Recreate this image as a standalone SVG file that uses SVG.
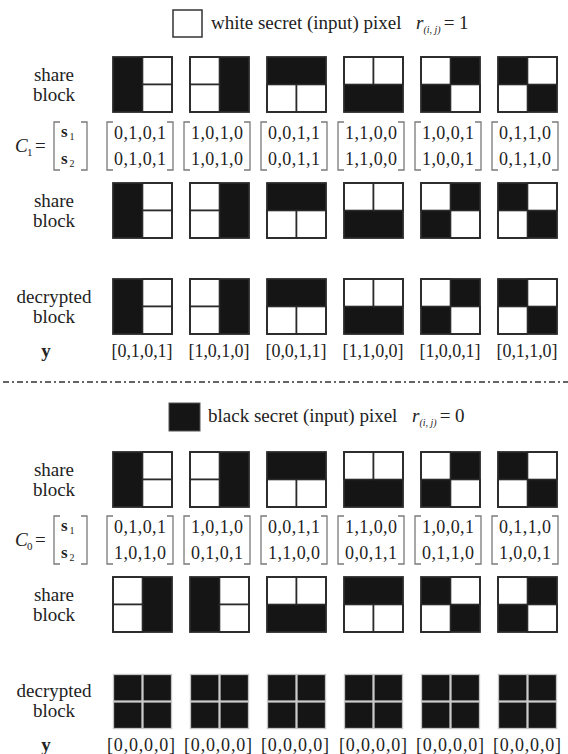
<svg xmlns="http://www.w3.org/2000/svg" xmlns:xlink="http://www.w3.org/1999/xlink" width="568" height="754" viewBox="0 0 568 754" font-family="'Liberation Serif', 'Times New Roman', serif">
<style>
text{font-family:"Liberation Serif","Times New Roman",serif;fill:#222}
.lbl{font-size:19px;text-anchor:middle}
.hd{font-size:19px}
.it{font-style:italic}
.mx{font-size:18px;text-anchor:middle}
.yv{font-size:18px;text-anchor:middle}
.cw{fill:#fff;stroke:#2a2a2a;stroke-width:1.6}
.cb{fill:#151515}
.out{fill:none;stroke:#2a2a2a;stroke-width:1.8}
.dk{fill:#151515;stroke:#c4c4c4;stroke-width:1.3}
.br{fill:none;stroke:#7a7a7a;stroke-width:1.3}
.dash{stroke:#333;stroke-width:1.5;stroke-dasharray:6 3 2 3}
</style>
<defs>
<g id="p0101"><rect class="cb" x="0" y="0" width="29.5" height="55"/><rect class="cw" x="29.5" y="0" width="29.5" height="27.5"/><rect class="cw" x="29.5" y="27.5" width="29.5" height="27.5"/><rect class="out" width="59" height="55"/></g>
<g id="p1010"><rect class="cb" x="29.5" y="0" width="29.5" height="55"/><rect class="cw" x="0" y="0" width="29.5" height="27.5"/><rect class="cw" x="0" y="27.5" width="29.5" height="27.5"/><rect class="out" width="59" height="55"/></g>
<g id="p0011"><rect class="cb" x="0" y="0" width="59" height="27.5"/><rect class="cw" x="0" y="27.5" width="29.5" height="27.5"/><rect class="cw" x="29.5" y="27.5" width="29.5" height="27.5"/><rect class="out" width="59" height="55"/></g>
<g id="p1100"><rect class="cb" x="0" y="27.5" width="59" height="27.5"/><rect class="cw" x="0" y="0" width="29.5" height="27.5"/><rect class="cw" x="29.5" y="0" width="29.5" height="27.5"/><rect class="out" width="59" height="55"/></g>
<g id="p1001"><rect class="cb" x="29.5" y="0" width="29.5" height="27.5"/><rect class="cb" x="0" y="27.5" width="29.5" height="27.5"/><rect class="cw" x="0" y="0" width="29.5" height="27.5"/><rect class="cw" x="29.5" y="27.5" width="29.5" height="27.5"/><rect class="out" width="59" height="55"/></g>
<g id="p0110"><rect class="cb" x="0" y="0" width="29.5" height="27.5"/><rect class="cb" x="29.5" y="27.5" width="29.5" height="27.5"/><rect class="cw" x="29.5" y="0" width="29.5" height="27.5"/><rect class="cw" x="0" y="27.5" width="29.5" height="27.5"/><rect class="out" width="59" height="55"/></g>
<g id="p0000"><rect class="dk" x="0.5" y="0.5" width="28.5" height="26.5"/><rect class="dk" x="30" y="0.5" width="28.5" height="26.5"/><rect class="dk" x="0.5" y="28" width="28.5" height="26.5"/><rect class="dk" x="30" y="28" width="28.5" height="26.5"/></g>
<path id="mbr" class="br" d="M6,0 H0 V48 H6 M60,0 H66 V48 H60"/>
<path id="cbr" class="br" d="M6,0 H0 V48 H6 M27,0 H33 V48 H27"/>
</defs>

<g id="connectors">
<line class="dash" x1="3" y1="382" x2="568" y2="382"/>
</g>

<g id="white-header">
<rect x="173" y="10" width="29" height="27" fill="#fff" stroke="#333" stroke-width="1.5"/>
<text class="hd" x="211" y="28.5">white secret (input) pixel</text>
<text class="hd" x="416" y="28.5"><tspan class="it">r</tspan><tspan font-size="10" class="it" dy="4">(i, j)</tspan><tspan dy="-4" dx="3">= 1</tspan></text>
</g>

<g id="lbl-share1"><text class="lbl" x="54" y="80.5">share</text><text class="lbl" x="54" y="100.5">block</text></g>
<g id="lbl-C1">
<text class="hd it" x="15" y="152">C</text><text x="27" y="156" font-size="11">1</text><text class="hd" x="35" y="152">=</text>
<use href="#cbr" x="54" y="122"/>
<text x="61" y="137" font-size="17" font-weight="bold">s</text><text x="69.5" y="140" font-size="10">1</text>
<text x="61" y="164" font-size="17" font-weight="bold">s</text><text x="69.5" y="167" font-size="10">2</text>
</g>
<g id="lbl-share2"><text class="lbl" x="54" y="206.5">share</text><text class="lbl" x="54" y="226.5">block</text></g>
<g id="lbl-dec1"><text class="lbl" x="54" y="302.5">decrypted</text><text class="lbl" x="54" y="322.5">block</text></g>
<g id="lbl-y1"><text class="lbl" x="46" y="357" font-weight="bold">y</text></g>

<g id="w-s1-1"><use href="#p0101" x="113" y="57"/></g>
<g id="w-s1-2"><use href="#p1010" x="190" y="57"/></g>
<g id="w-s1-3"><use href="#p0011" x="267" y="57"/></g>
<g id="w-s1-4"><use href="#p1100" x="344" y="57"/></g>
<g id="w-s1-5"><use href="#p1001" x="421" y="57"/></g>
<g id="w-s1-6"><use href="#p0110" x="498" y="57"/></g>

<g id="w-m-1"><use href="#mbr" x="107" y="122"/><text class="mx" x="140" y="139" textLength="52">0,1,0,1</text><text class="mx" x="140" y="165" textLength="52">0,1,0,1</text></g>
<g id="w-m-2"><use href="#mbr" x="184" y="122"/><text class="mx" x="217" y="139" textLength="52">1,0,1,0</text><text class="mx" x="217" y="165" textLength="52">1,0,1,0</text></g>
<g id="w-m-3"><use href="#mbr" x="261" y="122"/><text class="mx" x="294" y="139" textLength="52">0,0,1,1</text><text class="mx" x="294" y="165" textLength="52">0,0,1,1</text></g>
<g id="w-m-4"><use href="#mbr" x="338" y="122"/><text class="mx" x="371" y="139" textLength="52">1,1,0,0</text><text class="mx" x="371" y="165" textLength="52">1,1,0,0</text></g>
<g id="w-m-5"><use href="#mbr" x="415" y="122"/><text class="mx" x="448" y="139" textLength="52">1,0,0,1</text><text class="mx" x="448" y="165" textLength="52">1,0,0,1</text></g>
<g id="w-m-6"><use href="#mbr" x="492" y="122"/><text class="mx" x="525" y="139" textLength="52">0,1,1,0</text><text class="mx" x="525" y="165" textLength="52">0,1,1,0</text></g>

<g id="w-s2-1"><use href="#p0101" x="113" y="183"/></g>
<g id="w-s2-2"><use href="#p1010" x="190" y="183"/></g>
<g id="w-s2-3"><use href="#p0011" x="267" y="183"/></g>
<g id="w-s2-4"><use href="#p1100" x="344" y="183"/></g>
<g id="w-s2-5"><use href="#p1001" x="421" y="183"/></g>
<g id="w-s2-6"><use href="#p0110" x="498" y="183"/></g>

<g id="w-d-1"><use href="#p0101" x="113" y="279"/></g>
<g id="w-d-2"><use href="#p1010" x="190" y="279"/></g>
<g id="w-d-3"><use href="#p0011" x="267" y="279"/></g>
<g id="w-d-4"><use href="#p1100" x="344" y="279"/></g>
<g id="w-d-5"><use href="#p1001" x="421" y="279"/></g>
<g id="w-d-6"><use href="#p0110" x="498" y="279"/></g>

<g id="w-y">
<text class="yv" x="142" y="357" textLength="61">[0,1,0,1]</text>
<text class="yv" x="219" y="357" textLength="61">[1,0,1,0]</text>
<text class="yv" x="296" y="357" textLength="61">[0,0,1,1]</text>
<text class="yv" x="373" y="357" textLength="61">[1,1,0,0]</text>
<text class="yv" x="450" y="357" textLength="61">[1,0,0,1]</text>
<text class="yv" x="527" y="357" textLength="61">[0,1,1,0]</text>
</g>

<g id="black-header">
<rect x="169" y="403" width="31" height="28" fill="#151515" stroke="#555" stroke-width="1"/>
<text class="hd" x="208" y="421.5">black secret (input) pixel</text>
<text class="hd" x="412" y="421.5"><tspan class="it">r</tspan><tspan font-size="10" class="it" dy="4">(i, j)</tspan><tspan dy="-4" dx="3">= 0</tspan></text>
</g>

<g id="lbl-share3"><text class="lbl" x="54" y="475.5">share</text><text class="lbl" x="54" y="495.5">block</text></g>
<g id="lbl-C0">
<text class="hd it" x="15" y="546">C</text><text x="27" y="550" font-size="11">0</text><text class="hd" x="35" y="546">=</text>
<use href="#cbr" x="54" y="516"/>
<text x="61" y="531" font-size="17" font-weight="bold">s</text><text x="69.5" y="534" font-size="10">1</text>
<text x="61" y="558" font-size="17" font-weight="bold">s</text><text x="69.5" y="561" font-size="10">2</text>
</g>
<g id="lbl-share4"><text class="lbl" x="54" y="600.5">share</text><text class="lbl" x="54" y="620.5">block</text></g>
<g id="lbl-dec2"><text class="lbl" x="54" y="697">decrypted</text><text class="lbl" x="54" y="717">block</text></g>
<g id="lbl-y2"><text class="lbl" x="46" y="751" font-weight="bold">y</text></g>

<g id="b-s1-1"><use href="#p0101" x="113" y="452"/></g>
<g id="b-s1-2"><use href="#p1010" x="190" y="452"/></g>
<g id="b-s1-3"><use href="#p0011" x="267" y="452"/></g>
<g id="b-s1-4"><use href="#p1100" x="344" y="452"/></g>
<g id="b-s1-5"><use href="#p1001" x="421" y="452"/></g>
<g id="b-s1-6"><use href="#p0110" x="498" y="452"/></g>

<g id="b-m-1"><use href="#mbr" x="107" y="516"/><text class="mx" x="140" y="533" textLength="52">0,1,0,1</text><text class="mx" x="140" y="559" textLength="52">1,0,1,0</text></g>
<g id="b-m-2"><use href="#mbr" x="184" y="516"/><text class="mx" x="217" y="533" textLength="52">1,0,1,0</text><text class="mx" x="217" y="559" textLength="52">0,1,0,1</text></g>
<g id="b-m-3"><use href="#mbr" x="261" y="516"/><text class="mx" x="294" y="533" textLength="52">0,0,1,1</text><text class="mx" x="294" y="559" textLength="52">1,1,0,0</text></g>
<g id="b-m-4"><use href="#mbr" x="338" y="516"/><text class="mx" x="371" y="533" textLength="52">1,1,0,0</text><text class="mx" x="371" y="559" textLength="52">0,0,1,1</text></g>
<g id="b-m-5"><use href="#mbr" x="415" y="516"/><text class="mx" x="448" y="533" textLength="52">1,0,0,1</text><text class="mx" x="448" y="559" textLength="52">0,1,1,0</text></g>
<g id="b-m-6"><use href="#mbr" x="492" y="516"/><text class="mx" x="525" y="533" textLength="52">0,1,1,0</text><text class="mx" x="525" y="559" textLength="52">1,0,0,1</text></g>

<g id="b-s2-1"><use href="#p1010" x="113" y="577"/></g>
<g id="b-s2-2"><use href="#p0101" x="190" y="577"/></g>
<g id="b-s2-3"><use href="#p1100" x="267" y="577"/></g>
<g id="b-s2-4"><use href="#p0011" x="344" y="577"/></g>
<g id="b-s2-5"><use href="#p0110" x="421" y="577"/></g>
<g id="b-s2-6"><use href="#p1001" x="498" y="577"/></g>

<g id="b-d-1"><use href="#p0000" x="113" y="674"/></g>
<g id="b-d-2"><use href="#p0000" x="190" y="674"/></g>
<g id="b-d-3"><use href="#p0000" x="267" y="674"/></g>
<g id="b-d-4"><use href="#p0000" x="344" y="674"/></g>
<g id="b-d-5"><use href="#p0000" x="421" y="674"/></g>
<g id="b-d-6"><use href="#p0000" x="498" y="674"/></g>

<g id="b-y">
<text class="yv" x="141" y="751" textLength="68">[0,0,0,0]</text>
<text class="yv" x="218" y="751" textLength="68">[0,0,0,0]</text>
<text class="yv" x="295" y="751" textLength="68">[0,0,0,0]</text>
<text class="yv" x="373" y="751" textLength="68">[0,0,0,0]</text>
<text class="yv" x="450" y="751" textLength="68">[0,0,0,0]</text>
<text class="yv" x="527" y="751" textLength="68">[0,0,0,0]</text>
</g>
</svg>
